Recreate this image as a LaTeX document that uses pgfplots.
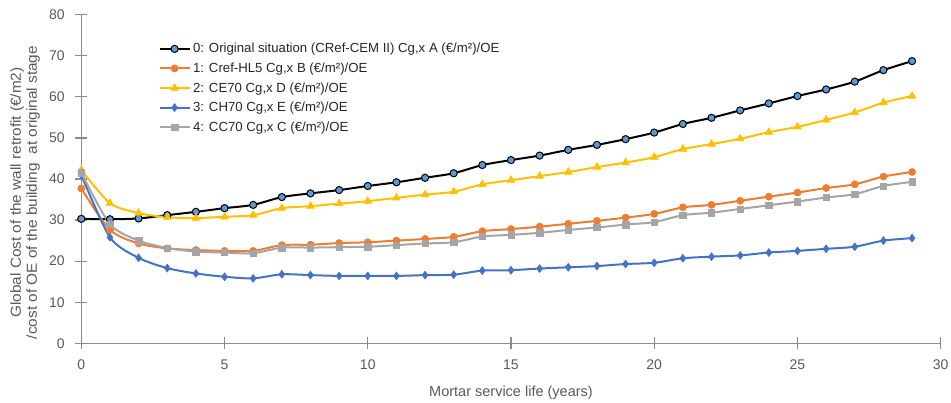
\documentclass[border=0pt]{standalone}
\usepackage{fontspec}
\setmainfont{Liberation Sans}
\usepackage{pgfplots}
\pgfplotsset{compat=1.18}
\definecolor{axgray}{RGB}{140,140,140}
\definecolor{txtgray}{RGB}{89,89,89}
\definecolor{c0fill}{RGB}{91,155,213}
\definecolor{c1}{RGB}{237,125,49}
\definecolor{c2}{RGB}{255,192,0}
\definecolor{c3}{RGB}{68,114,196}
\definecolor{c4}{RGB}{165,165,165}
\begin{document}
\begin{tikzpicture}
\useasboundingbox (-81.3pt,-59.7pt) rectangle (869.7pt,343.3pt);
\begin{axis}[
  at={(0pt,0pt)}, anchor=south west,
  scale only axis,
  width=859.4pt, height=328.6pt,
  xmin=0, xmax=30, ymin=0, ymax=80,
  xtick={0,5,...,30}, ytick={0,10,...,80},
  axis lines=left,
  axis line style={-, draw=axgray, line width=1.2pt},
  tick style={draw=axgray, line width=1.2pt},
  tick align=center,
  major tick length=12pt,
  /pgf/number format/assume math mode=true,
  tick label style={font=\fontsize{14}{16}\selectfont, text=txtgray},
  yticklabel style={xshift=-7pt},
  xticklabel style={yshift=-7pt},
  xlabel={Mortar service life (years)},
  xlabel style={at={(axis description cs:0.5,0)}, anchor=center, yshift=-49pt, font=\fontsize{14.5}{16}\selectfont, text=txtgray},
  ylabel={Global Cost of the wall retrofit (€/m2)\\/cost of OE of the building\ \ at original stage},
  ylabel style={at={(axis description cs:-0.0655,0.459)}, anchor=center, align=center, xscale=1.06, font=\fontsize{14.5}{16}\selectfont, text=txtgray},
  legend style={at={(axis description cs:0.0897,0.921)}, anchor=north west, draw=none, fill=none,
    font=\fontsize{13.2}{15}\selectfont, text=black!85, inner sep=0pt, row sep=3.5pt,
    nodes={inner sep=2.5pt}},
  legend cell align=left,
  legend image code/.code={\draw[mark repeat=2,mark phase=2] plot coordinates {(0pt,0pt) (15pt,0pt) (30pt,0pt)};},
  every axis plot/.append style={line width=2pt, smooth, tension=0.45},
  clip=false,
]
\addplot[color=black, mark=*, mark size=3.6pt, mark options={fill=c0fill, draw=black, line width=1pt}] coordinates {
(0,30.3) (1,30.2) (2,30.4) (3,31.2) (4,32.0) (5,32.9) (6,33.7) (7,35.6) (8,36.5) (9,37.3)
(10,38.3) (11,39.2) (12,40.3) (13,41.4) (14,43.4) (15,44.6) (16,45.7) (17,47.1) (18,48.3) (19,49.7)
(20,51.3) (21,53.4) (22,54.9) (23,56.7) (24,58.4) (25,60.2) (26,61.8) (27,63.7) (28,66.5) (29,68.7)};
\addlegendentry{0: Original situation (CRef-CEM II) Cg,x A (€/m²)/OE}
\addplot[color=c1, mark=*, mark size=3.6pt, mark options={fill=c1, draw=c1, line width=0.5pt}] coordinates {
(0,37.7) (1,27.6) (2,24.3) (3,23.1) (4,22.7) (5,22.5) (6,22.5) (7,23.9) (8,24.0) (9,24.4)
(10,24.6) (11,25.0) (12,25.4) (13,25.9) (14,27.3) (15,27.8) (16,28.4) (17,29.1) (18,29.8) (19,30.6)
(20,31.5) (21,33.1) (22,33.7) (23,34.7) (24,35.7) (25,36.7) (26,37.8) (27,38.7) (28,40.6) (29,41.7)};
\addlegendentry{1: Cref-HL5 Cg,x B (€/m²)/OE}
\addplot[color=c2, mark=triangle*, mark size=4.5pt, mark options={fill=c2, draw=c2, line width=0.5pt}] coordinates {
(0,42.2) (1,34.1) (2,31.7) (3,30.7) (4,30.5) (5,30.8) (6,31.2) (7,32.9) (8,33.4) (9,34.0)
(10,34.6) (11,35.4) (12,36.2) (13,36.9) (14,38.7) (15,39.7) (16,40.7) (17,41.7) (18,42.9) (19,44.0)
(20,45.3) (21,47.3) (22,48.5) (23,49.8) (24,51.4) (25,52.7) (26,54.4) (27,56.2) (28,58.6) (29,60.2)};
\addlegendentry{2: CE70 Cg,x D (€/m²)/OE}
\addplot[color=c3, mark=diamond*, mark size=4pt, mark options={fill=c3, draw=c3, line width=0.5pt}] coordinates {
(0,41.0) (1,25.8) (2,20.8) (3,18.3) (4,17.0) (5,16.2) (6,15.8) (7,16.8) (8,16.6) (9,16.4)
(10,16.4) (11,16.4) (12,16.6) (13,16.7) (14,17.7) (15,17.8) (16,18.2) (17,18.5) (18,18.8) (19,19.3)
(20,19.6) (21,20.7) (22,21.1) (23,21.4) (24,22.1) (25,22.5) (26,23.0) (27,23.5) (28,25.0) (29,25.6)};
\addlegendentry{3: CH70 Cg,x E (€/m²)/OE}
\addplot[color=c4, mark=square*, mark size=3.2pt, mark options={fill=c4, draw=c4, line width=0.5pt}] coordinates {
(0,41.5) (1,29.0) (2,25.0) (3,23.2) (4,22.3) (5,22.1) (6,21.9) (7,23.3) (8,23.3) (9,23.4)
(10,23.5) (11,23.9) (12,24.3) (13,24.6) (14,26.0) (15,26.4) (16,26.9) (17,27.6) (18,28.2) (19,28.9)
(20,29.5) (21,31.2) (22,31.8) (23,32.7) (24,33.6) (25,34.5) (26,35.5) (27,36.3) (28,38.3) (29,39.3)};
\addlegendentry{4: CC70 Cg,x C (€/m²)/OE}
\end{axis}
\end{tikzpicture}
\end{document}
